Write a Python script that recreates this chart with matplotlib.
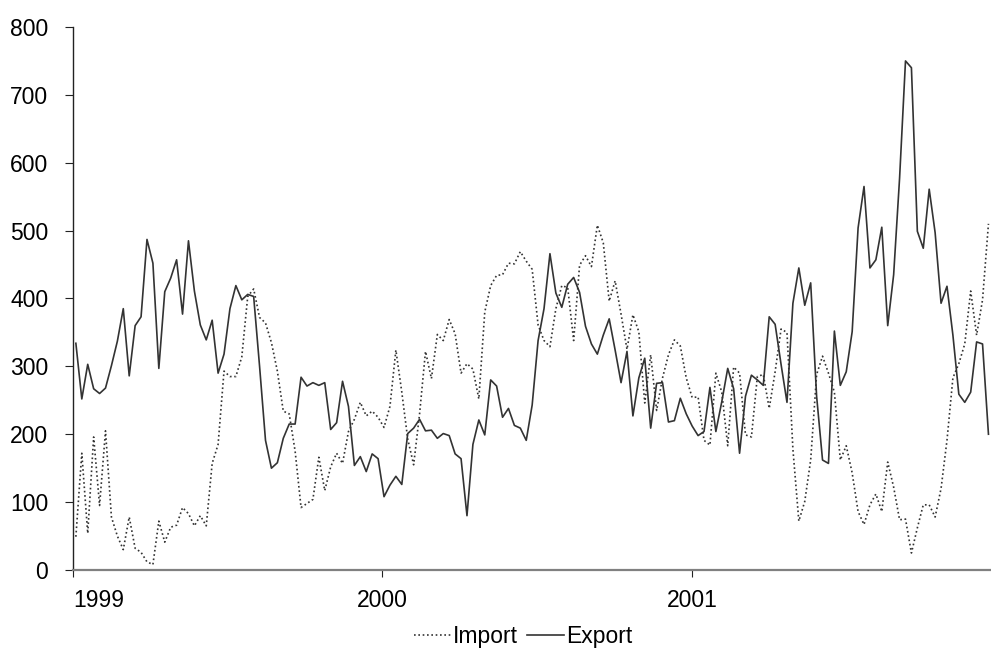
import pandas as pd
import matplotlib
matplotlib.use("Agg")
import matplotlib.pyplot as plt

# weekly values
import_vals = [
    49, 172, 54, 196, 95, 205, 78, 50, 30, 78,
    32, 26, 12, 8, 72, 41, 63, 66, 92, 83,
    65, 80, 65, 157, 185, 293, 285,
    285, 314, 403, 414, 372, 364, 335, 293, 234, 230,
    175, 92, 98, 104, 166, 117, 152, 172, 157, 204,
    222, 247, 227, 234, 225, 210,
    241, 324, 262, 193, 155, 230, 322, 282, 347, 338,
    369, 348, 290, 304, 296, 252, 380, 419, 434, 435,
    452, 451, 469, 455, 443, 361, 338,
    329, 385, 419, 416, 338, 449, 463, 447, 508, 482,
    396, 426, 377, 325, 376, 351, 246, 317, 235, 283,
    317, 339, 330, 283, 254, 255, 191,
    184, 290, 262, 183, 299, 290, 199, 196, 285, 288,
    238, 292, 355, 350, 178, 72, 101, 162, 288, 315,
    290, 262, 162,
    183, 143, 86, 67, 96, 112, 86, 159, 122, 74,
    75, 25, 62, 96, 96, 78, 120, 191, 283, 304,
    333, 411, 346, 398, 510,
]

export_vals = [
    334, 252, 303, 267, 260, 268, 301, 337, 385, 286,
    360, 373, 487, 452, 297, 410, 430, 457, 377, 485,
    411, 361, 339, 368, 290, 318, 385, 419, 398, 406,
    403, 300, 191, 150, 158, 194, 215, 215, 284, 271,
    276, 272, 276, 207, 217, 278, 241, 154, 167, 145,
    171, 164, 108, 125, 138, 126, 201, 209, 222, 205,
    206, 194, 201, 198, 171, 164, 80, 185, 221, 199,
    280, 271, 225, 238, 213, 209, 191, 243, 338, 385,
    466, 408, 387, 421, 431, 409, 359, 333, 318, 346,
    370, 324, 276, 322, 227, 283, 312, 209, 275, 276,
    218, 220, 253, 230, 212, 198, 204, 269, 204, 248,
    297, 267, 172, 256, 287, 280, 272, 373, 362, 303,
    247, 393, 445, 390, 423, 256, 162, 157, 352, 272,
    292, 351, 504, 565, 445, 457, 505, 360, 435, 577,
    750, 740, 499, 474, 561, 497, 393, 418, 346, 259,
    247, 262, 336, 333, 200,
]

years = ["1999", "2000", "2001"]
y_ticks = list(range(0, 900, 100))

dates = pd.date_range("1999-01-04", periods=len(export_vals), freq="7D")

plt.rcParams["font.family"] = ["Liberation Sans", "DejaVu Sans"]
plt.rcParams["font.size"] = 16.5

fig = plt.figure(figsize=(9.91, 6.55), dpi=100)
ax = fig.add_axes([0.074, 0.1298, 0.926, 0.829])

ax.plot(dates, import_vals, color="#333333", lw=1.2, ls=(0, (1, 1.6)), label="Import")
ax.plot(dates, export_vals, color="#333333", lw=1.2, label="Export")

ax.set_xlim(pd.Timestamp("1999-01-01"), pd.Timestamp("2001-12-20"))
ax.set_ylim(0, 800)
ax.set_yticks(y_ticks)

ax.set_xticks([pd.Timestamp(y + "-01-01") for y in years])
ax.set_xticklabels(years)
ax.get_xticklabels()[0].set_ha("left")

for s in ["top", "right"]:
    ax.spines[s].set_visible(False)
ax.spines["left"].set_color("#222222")
ax.spines["left"].set_linewidth(1.0)
ax.spines["bottom"].set_color("#808080")
ax.spines["bottom"].set_linewidth(1.6)

ax.tick_params(axis="y", direction="out", length=6, width=0.8, pad=12, color="#222222")
ax.tick_params(axis="x", direction="out", length=5, width=0.8, pad=9, color="#222222")

fig.legend(loc="center", bbox_to_anchor=(0.528, 0.028), ncol=2, frameon=False,
           handlelength=1.6, handletextpad=0.1, columnspacing=0.4, fontsize=16.5)

fig.savefig("out.png", dpi=100)
